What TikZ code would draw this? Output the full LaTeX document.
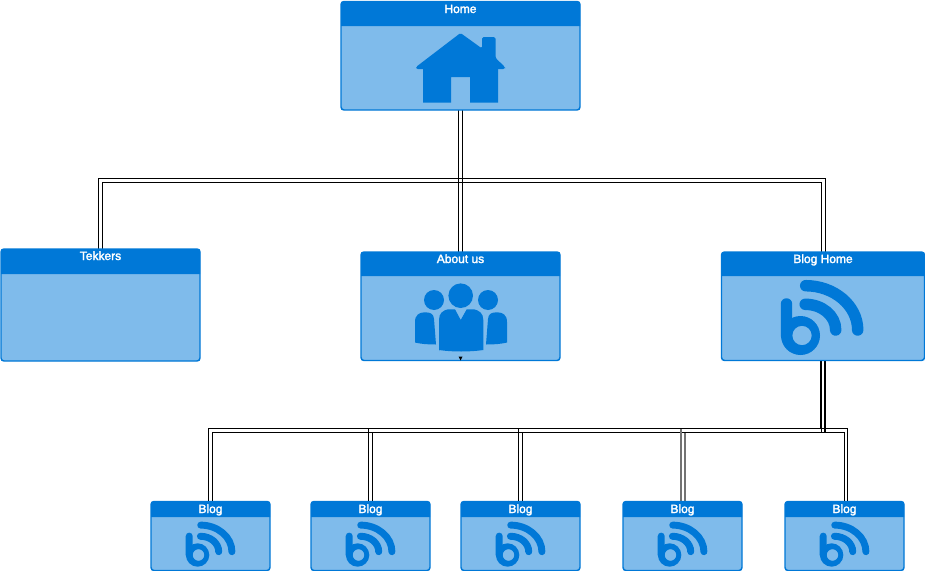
\documentclass[tikz,border=0pt]{standalone}
\usepackage{fontspec}
\setmainfont{Liberation Sans}
\newfontfamily\titlefont[FakeBold=2.2]{Liberation Sans}
\definecolor{hdrblue}{HTML}{0078D7}
\definecolor{bodyblue}{HTML}{7FBBEB}
\pgfdeclarelayer{backdrop}
\pgfdeclarelayer{wires}
\pgfsetlayers{backdrop,wires,main}
\tikzset{
  x=0.75pt,y=-0.75pt,
  wire/.style={draw=black,line width=0.75pt},
  heavywire/.style={draw=black,line width=1.5pt},
  cardbox/.style={draw=hdrblue,fill=bodyblue,line width=1.1pt,rounded corners=2.25pt,inner sep=0pt,outer sep=0pt},
  cardtitle/.style={text=white,font=\titlefont\fontsize{9}{11}\selectfont,anchor=base,inner sep=0pt},
  iconfill/.style={fill=hdrblue,draw=none},
  pics/blogicon/.style={code={
    \draw[draw=hdrblue,line width=#1,line cap=round]
      (-15.5,-31.5) -- (-15.5,0)
      (3.2,-31.2) .. controls (20,-31.2) and (33.7,-20) .. (33.7,-5.5)
      (3.7,-49.8) .. controls (32,-49.8) and (55.7,-30) .. (55.7,-5.5);
    \fill[hdrblue,even odd rule] (-1.5,0) circle (19.5) (0,0) circle (9.7);
  }}
}
% name, x0, y0, x1, y1, header bottom, title, title baseline
\newcommand{\carddraw}[8]{%
  \node[cardbox,minimum width={(#4-#2)*0.75pt},minimum height={(#5-#3)*0.75pt}] (#1) at ({(#2+#4)/2},{(#3+#5)/2}) {};
  \fill[hdrblue] (#2,#6) [rounded corners=2.25pt] -- (#2,#3) -- (#4,#3) [sharp corners] -- (#4,#6) -- cycle;
  \node[cardtitle] (#1title) at ({(#2+#4)/2},#8) {#7};
}
\begin{document}
\begin{tikzpicture}
\useasboundingbox (0,0) rectangle (925,571);
\begin{pgfonlayer}{backdrop}
  \fill[white] (0,0) rectangle (925,571);
\end{pgfonlayer}

\carddraw{home}{341}{1.5}{580}{110}{26}{Home}{13}
\carddraw{tekkers}{1}{249}{200}{361}{274}{Tekkers}{260}
\carddraw{about}{361}{252}{560}{360.5}{276}{About us}{263}
\carddraw{blogh}{721.5}{252}{924.5}{360.5}{276}{Blog Home}{263}
\carddraw{blogA}{151}{501.5}{270}{570.5}{517}{Blog}{513}
\carddraw{blogB}{311}{501.5}{430}{570.5}{517}{Blog}{513}
\carddraw{blogC}{461}{501.5}{580}{570.5}{517}{Blog}{513}
\carddraw{blogD}{623}{501.5}{742}{570.5}{517}{Blog}{513}
\carddraw{blogE}{785}{501.5}{904}{570.5}{517}{Blog}{513}

\coordinate (busA) at (460.5,180.5);
\coordinate (busB) at (520.5,430.5);

\begin{pgfonlayer}{wires}
  % Home to About us
  \draw[wire] ([xshift=-1.5pt]home.south) -- ([xshift=-1.5pt]about.north);
  \draw[wire] ([xshift=1.5pt]home.south) -- ([xshift=1.5pt]about.north);
  % Home bus to Tekkers and Blog Home
  \draw[wire] ([xshift=-1.5pt]tekkers.north) |- ([yshift=1.5pt]busA) -| ([xshift=1.5pt]blogh.north);
  \draw[wire] ([xshift=1.5pt]tekkers.north) |- ([yshift=-1.5pt]busA) -| ([xshift=-1.5pt]blogh.north);
  % Blog Home bus
  \draw[wire] ([xshift=-1.5pt]blogA.north) |- ([yshift=1.5pt]busB) -| ([xshift=2.25pt]blogE.north);
  \draw[wire] ([xshift=1.5pt]blogA.north) |- ([yshift=-1.5pt]busB) -| ([xshift=0pt]blogE.north);
  \draw[wire] ([xshift=-1.5pt]blogB.north) -- ([xshift=-1.5pt,yshift=1.5pt]blogB.north |- busB);
  \draw[wire] ([xshift=1.5pt]blogB.north) -- ([xshift=1.5pt,yshift=-1.5pt]blogB.north |- busB);
  \draw[wire] ([xshift=-1.5pt]blogC.north) -- ([xshift=-1.5pt,yshift=1.5pt]blogC.north |- busB);
  \draw[wire] ([xshift=1.5pt]blogC.north) -- ([xshift=1.5pt,yshift=-1.5pt]blogC.north |- busB);
  \draw[wire,black!55,line width=1.1pt] ([xshift=-1.125pt]blogD.north) -- ([xshift=-1.125pt,yshift=1.5pt]blogD.north |- busB);
  \draw[wire,black!55,line width=1.1pt] ([xshift=1.875pt]blogD.north) -- ([xshift=1.875pt,yshift=-1.5pt]blogD.north |- busB);
  \draw[heavywire] ([xshift=-1.5pt]blogh.south) -- ([xshift=-1.5pt,yshift=1.5pt]blogh.south |- busB);
  \draw[wire] ([xshift=-1.5pt]blogh.south) -- ([xshift=-1.5pt,yshift=-1.5pt]blogh.south |- busB);
  \draw[heavywire] ([xshift=1.5pt]blogh.south) -- ([xshift=1.5pt,yshift=-1.5pt]blogh.south |- busB);
\end{pgfonlayer}

% small arrow tip at the foot of About us
\fill[black] ([xshift=-1.5pt,yshift=3pt]about.south) -- ([xshift=1.5pt,yshift=3pt]about.south) -- (about.south) -- cycle;

% house icon
\fill[iconfill,rounded corners=1.2pt]
  (460.5,33) -- (482,48.5) -- (482,37) -- (495.5,37) -- (495.5,58) -- (505,67) -- (505,69)
  -- (416,69) -- (416,67) -- cycle;
\fill[iconfill] (423,68) -- (498,68) -- (498,102.7) -- (470,102.7) -- (470,77) -- (451,77) -- (451,102.7) -- (423,102.7) -- cycle;

% team icon
\fill[iconfill] (460.7,295.7) circle (12.3);
\fill[iconfill] (434,300) circle (10);
\fill[iconfill] (488,300) circle (10);
\fill[iconfill] (439,351) -- (439,320) .. controls (439,313) and (443,310.5) .. (448,309.3)
  -- (455,309.3) -- (460.7,320) -- (466.7,309.3) -- (474,309.3)
  .. controls (479,310.5) and (483.3,313) .. (483.3,320) -- (483.3,350)
  .. controls (470,352) and (452,352) .. (439,350) -- cycle;
\fill[iconfill] (415,342.5) -- (415,322) .. controls (415,315) and (419,312.3) .. (425,312.3)
  .. controls (431,312.3) and (433.5,314) .. (434,319) -- (436,344.5)
  .. controls (428,344.5) and (421,344) .. (415,342.5) -- cycle;
\fill[iconfill] (507,342.5) -- (507,322) .. controls (507,315) and (503,312.3) .. (497,312.3)
  .. controls (491,312.3) and (488.5,314) .. (488,319) -- (486,344.5)
  .. controls (494,344.5) and (501,344) .. (507,342.5) -- cycle;

% blog icons
\pic at (802,335.5) {blogicon={8.6pt}};
\pic[scale=0.6] at (198.5,555) {blogicon={5.2pt}};
\pic[scale=0.6] at (358.5,555) {blogicon={5.2pt}};
\pic[scale=0.6] at (508.5,555) {blogicon={5.2pt}};
\pic[scale=0.6] at (670.5,555) {blogicon={5.2pt}};
\pic[scale=0.6] at (832.5,555) {blogicon={5.2pt}};
\end{tikzpicture}
\end{document}
